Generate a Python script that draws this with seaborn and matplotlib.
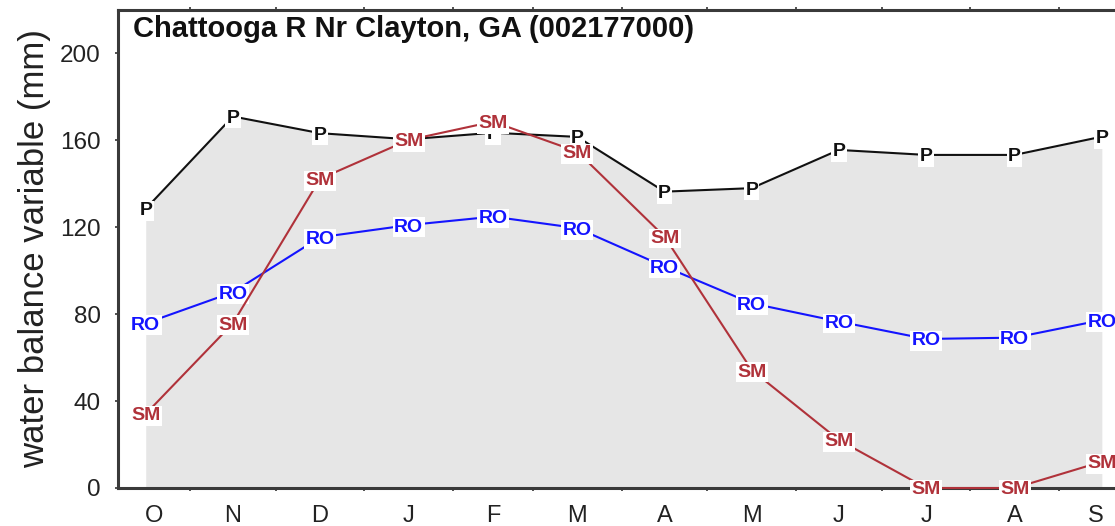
import numpy as np
import pandas as pd
import matplotlib
matplotlib.use("Agg")
import matplotlib.pyplot as plt
import seaborn as sns

# Water-year monthly water balance (mm), October through September
months = ["O", "N", "D", "J", "F", "M", "A", "M", "J", "J", "A", "S"]
month_days = [31, 30, 31, 31, 28, 31, 30, 31, 30, 31, 31, 30]
precip = [128.5, 171.0, 163.3, 160.5, 163.5, 161.6, 136.4, 138.0, 155.6, 153.3, 153.3, 161.7]
runoff = [75.8, 90.1, 115.4, 121.0, 124.9, 119.6, 101.9, 85.0, 76.6, 68.6, 69.2, 77.3]
soil_moisture = [34.1, 75.8, 142.3, 160.2, 168.6, 154.8, 115.7, 54.3, 22.1, 0.0, 0.0, 12.1]
series_labels = ["P", "RO", "SM"]
yticks = [0, 40, 80, 120, 160, 200]
title = "Chattooga R Nr Clayton, GA (002177000)"
ylabel = "water balance variable (mm)"

sns.set_theme(style="white")
plt.rcParams["font.family"] = ["Liberation Sans", "DejaVu Sans"]

# day-of-water-year positions
starts = np.concatenate([[0], np.cumsum(month_days)[:-1]])
ends = np.cumsum(month_days)
mid = starts + np.array(month_days) / 2.0
xlim = (5.8, 360.9)

df = pd.DataFrame({"day": np.tile(mid, 3),
                   "value": precip + runoff + soil_moisture,
                   "series": np.repeat(series_labels, 12)})

fig = plt.figure(figsize=(11.15, 5.26), dpi=100)
ax = fig.add_axes([118 / 1115, 38 / 526, 1015 / 1115, 478 / 526])

ax.fill_between(mid, 0, precip, color="#e6e6e6", lw=0, zorder=1)

colors = {"P": "#111111", "RO": "#1414ff", "SM": "#b0323a"}
zl = {"P": 3, "RO": 5, "SM": 7}
for s in series_labels:
    sub = df[df["series"] == s]
    sns.lineplot(data=sub, x="day", y="value", color=colors[s], lw=1.5,
                 sort=False, estimator=None, ax=ax, zorder=zl[s], clip_on=False)
    for xv, yv in zip(sub["day"], sub["value"]):
        ax.text(xv, yv, s, ha="center", va="center_baseline", color=colors[s],
                fontsize=14, fontweight="bold", zorder=zl[s] + 1, clip_on=False,
                bbox=dict(facecolor="white", edgecolor="none", pad=1.0))

ax.set_xlim(*xlim)
ax.set_ylim(0, 220)

# month labels centred on the visible part of each month
lab_pos = [(max(a, xlim[0]) + min(b, xlim[1])) / 2 for a, b in zip(starts, ends)]
ax.set_xticks(lab_pos)
ax.set_xticklabels(months)
ax.set_xticks(starts[1:], minor=True)
ax.tick_params(axis="x", which="major", length=0, pad=12, labelsize=17, colors="#222222")
ax.tick_params(axis="x", which="minor", direction="out", length=2.5, width=1.2,
               color="#333333", bottom=True, top=True)
ax.set_yticks(yticks)
ax.tick_params(axis="y", which="major", direction="out", length=2.5, width=1.2,
               color="#333333", left=True, pad=10, labelsize=17.5, labelcolor="#222222")

for sp in ax.spines.values():
    sp.set_color("#3a3a3a")
    sp.set_linewidth(2.2)
    sp.set_zorder(2.5)

ax.set_xlabel("")
ax.set_ylabel(ylabel, fontsize=25, color="#222222")
ax.yaxis.set_label_coords(-0.066, 0.5)

ax.text(0.0148, 0.9425, title, transform=ax.transAxes, ha="left", va="baseline",
        fontsize=21, fontweight="bold", color="#111111", zorder=10)

fig.savefig("out.png", dpi=100)
